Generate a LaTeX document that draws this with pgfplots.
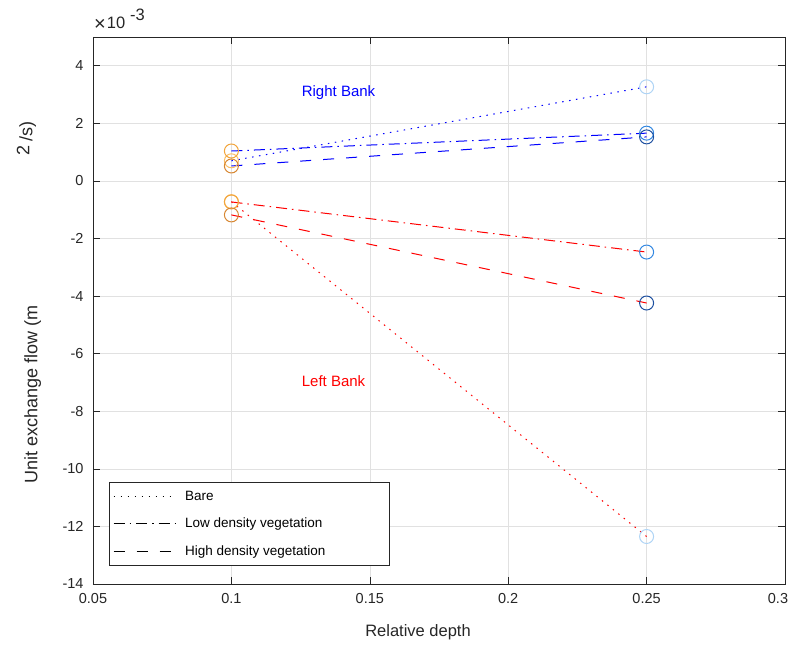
\documentclass[border=0pt]{standalone}
\usepackage{fontspec}
\setmainfont{Liberation Sans}
\usepackage{pgfplots}
\pgfplotsset{compat=1.18}
\definecolor{axgray}{RGB}{38,38,38}
\definecolor{gridgray}{RGB}{225,225,225}
\definecolor{orL}{RGB}{250,190,100}
\definecolor{orM}{RGB}{242,165,60}
\definecolor{orD}{RGB}{215,135,50}
\definecolor{blL}{RGB}{175,212,245}
\definecolor{blM}{RGB}{50,135,225}
\definecolor{blD}{RGB}{30,80,160}
\tikzset{
  bare/.style={dash pattern=on 1.5pt off 5.5pt},
  low/.style={dash pattern=on 11pt off 5pt on 1.5pt off 5pt},
  high/.style={dash pattern=on 11pt off 12pt},
}
\begin{document}
\begin{tikzpicture}
\useasboundingbox (-93pt,-61pt) rectangle (699pt,584pt);
\begin{axis}[
  name=ax,
  at={(0pt,0pt)}, anchor=south west,
  scale only axis, width=692pt, height=547pt,
  xmin=0.05, xmax=0.3, ymin=-14, ymax=5,
  xtick={0.05,0.1,0.15,0.2,0.25,0.3},
  xticklabels={0.05,0.1,0.15,0.2,0.25,0.3\hspace*{14pt}},
  ytick={-14,-12,-10,-8,-6,-4,-2,0,2,4},
  yticklabels={-14,-12,-10,-8,-6,-4,-2,0,2,4},
  tick align=inside, major tick length=7pt,
  tick style={axgray, line width=0.6pt},
  axis line style={axgray, line width=0.8pt},
  grid=major, major grid style={gridgray, line width=0.6pt},
  ticklabel style={font=\fontsize{14.5}{17}\selectfont, text=axgray},
  xticklabel style={yshift=-6pt},
  yticklabel style={xshift=-6pt},
  xlabel={Relative depth},
  ylabel={Unit exchange flow (m\hspace{150pt}\raisebox{8pt}{2}\hspace{4pt}\raisebox{5pt}{/s)}},
  every axis x label/.style={at={(axis description cs:0.5,0)}, anchor=center, yshift=-48pt, xshift=-21pt,
    font=\fontsize{16.5}{19}\selectfont, text=axgray},
  every axis y label/.style={at={(axis description cs:0,0.5)}, anchor=center, rotate=90, yshift=64pt, xshift=8pt,
    font=\fontsize{18}{21}\selectfont, text=axgray},
  legend style={at={(rel axis cs:0.0231,0.0329)}, anchor=south west, draw=axgray, line width=0.6pt,
    font=\fontsize{13.5}{16}\selectfont, row sep=12pt, inner xsep=4pt, inner ysep=7pt, fill=white,
    /tikz/every odd column/.append style={column sep=7pt}},
  legend cell align=left,
  legend image code/.code={\draw[#1, line width=0.9pt] (0pt,0pt) -- (62pt,0pt);},
]
\addlegendimage{black, bare}
\addlegendentry{Bare}
\addlegendimage{black, low}
\addlegendentry{Low density vegetation}
\addlegendimage{black, high}
\addlegendentry{High density vegetation\hspace*{58pt}}
% Right bank
\addplot[blue, bare, line width=1pt, forget plot] coordinates {(0.1,0.70) (0.25,3.27)};
\addplot[blue, low, line width=1pt, forget plot] coordinates {(0.1,1.04) (0.25,1.66)};
\addplot[blue, high, line width=1pt, forget plot] coordinates {(0.1,0.52) (0.25,1.53)};
% Left bank
\addplot[red, bare, line width=1pt, forget plot] coordinates {(0.1,-0.72) (0.25,-12.35)};
\addplot[red, low, line width=1pt, forget plot] coordinates {(0.1,-0.73) (0.25,-2.47)};
\addplot[red, high, line width=1pt, forget plot] coordinates {(0.1,-1.18) (0.25,-4.24)};
% markers at 0.1
\addplot[only marks, mark=o, mark size=7pt, orL, line width=1pt, forget plot] coordinates {(0.1,0.70) (0.1,-0.72)};
\addplot[only marks, mark=o, mark size=7pt, orM, line width=1pt, forget plot] coordinates {(0.1,1.04) (0.1,-0.73)};
\addplot[only marks, mark=o, mark size=7pt, orD, line width=1pt, forget plot] coordinates {(0.1,0.52) (0.1,-1.18)};
% markers at 0.25
\addplot[only marks, mark=o, mark size=7pt, blL, line width=1pt, forget plot] coordinates {(0.25,3.27) (0.25,-12.35)};
\addplot[only marks, mark=o, mark size=7pt, blM, line width=1pt, forget plot] coordinates {(0.25,1.66) (0.25,-2.47)};
\addplot[only marks, mark=o, mark size=7pt, blD, line width=1pt, forget plot] coordinates {(0.25,1.53) (0.25,-4.24)};
\node[blue, font=\fontsize{15}{18}\selectfont] at (axis cs:0.1387,3.06) {Right Bank};
\node[red, font=\fontsize{15}{18}\selectfont] at (axis cs:0.1369,-6.96) {Left Bank};
\end{axis}
\node[anchor=base west, font=\fontsize{16.5}{19}\selectfont, text=axgray, inner sep=0pt] at ([shift={(1pt,8pt)}]ax.north west) {\raisebox{-2pt}{\fontsize{20}{20}\selectfont ×}\hspace{1pt}10\hspace{5pt}\raisebox{8pt}{-3}};
\end{tikzpicture}
\end{document}
